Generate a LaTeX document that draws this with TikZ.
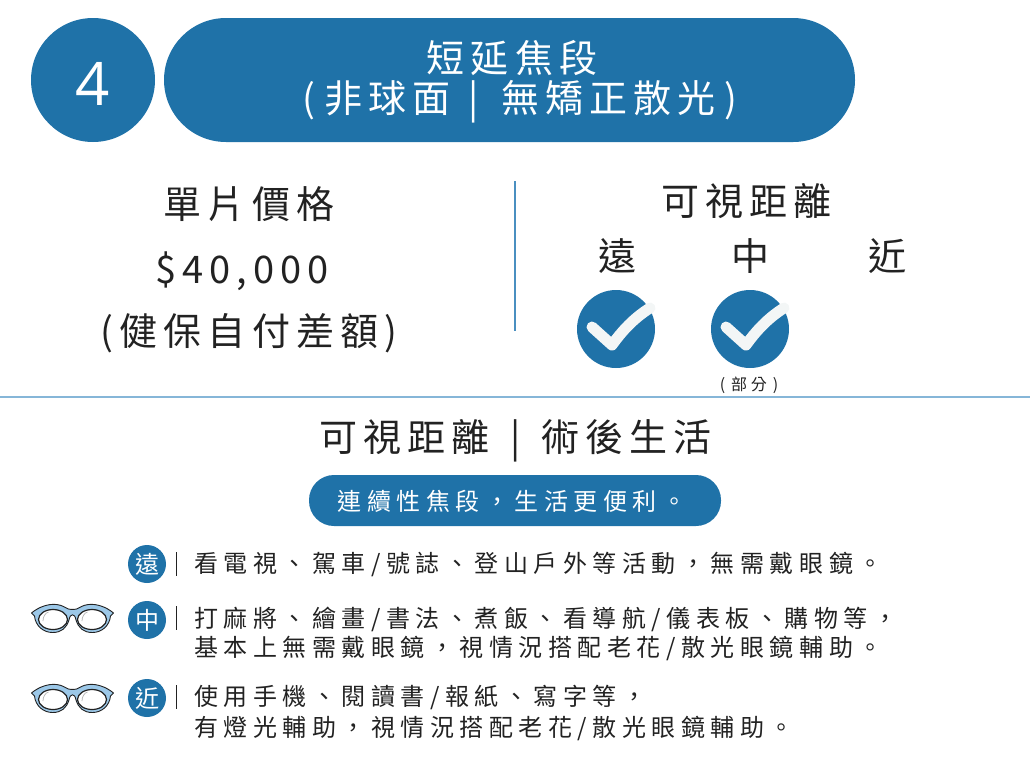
\documentclass[tikz,border=0pt]{standalone}
\usepackage{fontspec}
\newfontfamily\cjkwide[LetterSpace=16]{Noto Sans CJK TC}
\newfontfamily\cjkbody[LetterSpace=23]{Noto Sans CJK TC}
\newfontfamily\latnum{Open Sans}
\definecolor{mainblue}{HTML}{1F72A8}
\definecolor{ruleblue}{HTML}{86B6D8}
\definecolor{dividerblue}{HTML}{4A8FC0}
\definecolor{frameblue}{HTML}{9CC8E8}
\definecolor{inkdark}{HTML}{222222}
\definecolor{checkwhite}{HTML}{F3F6F6}
\tikzset{
  big/.style={inner sep=0pt,text=inkdark,font=\cjkwide\fontsize{38}{38}\selectfont},
  title/.style={inner sep=0pt,text=white,font=\cjkwide\fontsize{38}{38}\selectfont},
  body/.style={inner sep=0pt,anchor=west,text=inkdark,font=\cjkbody\fontsize{24}{24}\selectfont},
  badge/.style={circle,fill=mainblue,minimum size=38pt,inner sep=0pt,text=white,font=\cjkbody\fontsize{24}{24}\selectfont},
  okdisc/.style={circle,fill=mainblue,minimum size=78pt,inner sep=0pt},
  tick/.style={draw=checkwhite,line width=11pt,line cap=round,line join=round},
  barline/.style={draw=inkdark,line width=0.8pt},
  frame/.style={draw=inkdark,line width=0.9pt,fill=frameblue,line join=round},
  lens/.style={draw=inkdark,line width=1.2pt,fill=white},
}
\newcommand{\glasses}[2]{%
  \begin{scope}[shift={(#1,#2)}]
    \path[frame] (-41,-5) .. controls (-34,-11) and (-24,-14.5) .. (-16,-13.5)
      .. controls (-10,-13) and (-7,-10) .. (-4,-9)
      .. controls (-2,-8.5) and (2,-8.5) .. (4,-9)
      .. controls (7,-10) and (10,-13) .. (16,-13.5)
      .. controls (24,-14.5) and (34,-11) .. (41,-5)
      -- (38,-2) .. controls (37,8) and (29,14.5) .. (20,14.5)
      .. controls (11,14.5) and (6,10) .. (3.5,2)
      .. controls (2.5,-5) and (-2.5,-5) .. (-3.5,2)
      .. controls (-6,10) and (-11,14.5) .. (-20,14.5)
      .. controls (-29,14.5) and (-37,8) .. (-38,-2) -- cycle;
    \path[lens] (-19.5,1.5) ellipse [x radius=14.5,y radius=10];
    \path[lens] (19.5,1.5) ellipse [x radius=14.5,y radius=10];
    \draw[gray!60,line width=0.7pt] (-29.5,3) .. controls (-29.5,-1) and (-27.5,-5) .. (-24,-6);
    \draw[gray!60,line width=0.7pt] (9.5,3) .. controls (9.5,-1) and (11.5,-5) .. (15,-6);
  \end{scope}}
\begin{document}
\begin{tikzpicture}[x=1pt,y=-1pt]
\useasboundingbox (0,0) rectangle (1030,772);
\node[circle,fill=mainblue,minimum size=124pt,inner sep=0pt] (numdisc) at (93,80) {};
\node[text=white,inner sep=0pt,font=\latnum\fontsize{60}{60}\selectfont] (num) at (93,84) {4};
\node[rounded corners=62pt,fill=mainblue,minimum width=691pt,minimum height=124pt,inner sep=0pt] (banner) at (509.5,80) {};
\node[title] (t1) at (512,58) {短延焦段};
\node[title] (t2) at (520,102) {(\hspace{9pt}非球面\hspace{18pt}|\hspace{22pt}無矯正散光\hspace{9pt})};
\node[big] (price) at (249,204) {單片價格};
\node[big] (amount) at (242,271) {\$40,000};
\node[big] (nhi) at (249,333) {(健保自付差額)};
\coordinate (vtop) at (515,181);
\coordinate (vbot) at (515,331);
\draw[dividerblue,line width=1.1pt] (vtop) -- (vbot);
\node[big] (vis) at (746.5,201) {可視距離};
\node[big] (far) at (617,256) {遠};
\node[big] (mid) at (750,256) {中};
\node[big] (near) at (887.5,256) {近};
\node[okdisc] (ok1) at (616,329) {};
\node[okdisc] (ok2) at (750,329) {};
\draw[tick] (592,327) -- (612,345) .. controls (622,331) and (634,318) .. (650,308);
\draw[tick] (726,327) -- (746,345) .. controls (756,331) and (768,318) .. (784,308);
\node[inner sep=0pt,text=inkdark,font=\cjkbody\fontsize{16}{16}\selectfont] (part) at (749,385) {(\hspace{6pt}部分\hspace{6pt})};
\coordinate (hl) at (0,397);
\coordinate (hr) at (1030,397);
\draw[ruleblue,line width=1.5pt] (hl) -- (hr);
\node[big] (sub) at (515.5,441) {可視距離\hspace{21pt}|\hspace{21pt}術後生活};
\node[rounded corners=25pt,fill=mainblue,minimum width=412pt,minimum height=51pt,inner sep=0pt] (pill) at (515,500.5) {};
\node[inner sep=0pt,text=white,font=\cjkbody\fontsize{24}{24}\selectfont] (pilltext) at (512,501) {連續性焦段，生活更便利。};
\node[badge] (b1) at (147,564) {遠};
\node[badge] (b2) at (147,620) {中};
\node[badge] (b3) at (147,698) {近};
\coordinate (s1a) at (176,552); \coordinate (s1b) at (176,576);
\coordinate (s2a) at (176,606); \coordinate (s2b) at (176,630);
\coordinate (s3a) at (176,685); \coordinate (s3b) at (176,709);
\draw[barline] (s1a) -- (s1b);
\draw[barline] (s2a) -- (s2b);
\draw[barline] (s3a) -- (s3b);
\node[body] (r1) at (194,564.5) {看電視、駕車/號誌、登山戶外等活動，無需戴眼鏡。};
\node[body] (r2a) at (194,619.5) {打麻將、繪畫/書法、煮飯、看導航/儀表板、購物等，};
\node[body] (r2b) at (194,648.5) {基本上無需戴眼鏡，視情況搭配老花/散光眼鏡輔助。};
\node[body] (r3a) at (194,697.5) {使用手機、閱讀書/報紙、寫字等，};
\node[body] (r3b) at (194,728.5) {有燈光輔助，視情況搭配老花/散光眼鏡輔助。};
\glasses{72.5}{618}
\glasses{72.5}{698}
\end{tikzpicture}
\end{document}
